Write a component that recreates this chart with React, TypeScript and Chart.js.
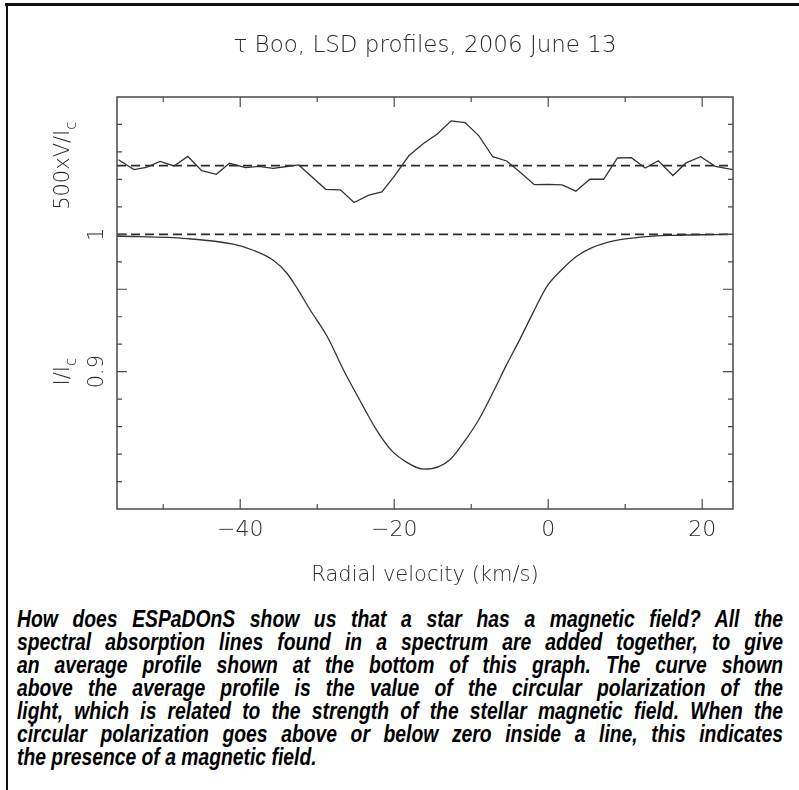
import React, { useEffect, useRef } from "react";
import { Chart, registerables } from "chart.js";

Chart.register(...registerables);

// ---- data ----
const titleText = "\u03c4 Boo, LSD profiles, 2006 June 13";
const xAxisTitle = "Radial velocity (km/s)";

// Stokes V profile (500 x V/Ic), plotted with an offset
const vVelocity = [
  -55.8, -53.8, -52.2, -50.4, -48.6, -46.8, -45.0, -43.1, -41.4, -39.3, -37.6, -35.7, -34.2,
  -32.4, -28.9, -27.0, -25.2, -23.3, -21.6, -20.1, -18.1, -16.2, -14.4, -12.6, -10.8, -9.0,
  -7.2, -5.4, -3.6, -1.8, 0.0, 1.8, 3.6, 5.4, 7.2, 9.0, 10.8, 12.6, 14.3, 16.2, 17.9, 19.8,
  21.7, 24.0,
];
const vSignal = [
  0.0043, -0.0029, -0.0012, 0.0031, -0.0002, 0.0067, -0.0036, -0.0063, 0.0017, -0.0014, -0.0005,
  -0.002, -0.0008, 0.0005, -0.0172, -0.0176, -0.0268, -0.0215, -0.0191, -0.0085, 0.0072, 0.0162,
  0.023, 0.0326, 0.0314, 0.0217, 0.0065, 0.0034, -0.0049, -0.0138, -0.0136, -0.014, -0.0186,
  -0.0099, -0.0099, 0.0056, 0.0058, -0.0017, 0.0036, -0.0072, 0.002, 0.0065, -0.0005, -0.0029,
];
const vOffset = 1.05;

// Stokes I profile (I/Ic)
const iVelocity = [
  -56, -46.9, -40.9, -38.3, -35.7, -33.9, -32.6, -30.9, -28.7, -26.6, -24.4, -22.2, -20.3,
  -18.3, -16.2, -14.2, -12.7, -11.0, -9.0, -7.1, -5.4, -3.6, -1.9, -0.2, 1.8, 3.7, 5.7, 8.5,
  12.0, 16.3, 21.5, 24.0,
];
const iProfile = [
  0.9988, 0.9969, 0.9928, 0.9884, 0.9812, 0.9715, 0.9606, 0.9449, 0.9256, 0.9014, 0.8785,
  0.8567, 0.8423, 0.8338, 0.829, 0.8309, 0.8362, 0.8483, 0.8652, 0.8857, 0.9051, 0.9244,
  0.9437, 0.9618, 0.9744, 0.984, 0.9903, 0.9952, 0.998, 0.9993, 0.9998, 1.0,
];
const referenceLevels = [1.05, 1.0];

const xMin = -56;
const xMax = 24;
const yMin = 0.8;
const yMax = 1.1;
const xMajorTicks = [-40, -20, 0, 20];
const xMinorTicks = [-50, -30, -10, 10];
const xTickLabels = ["\u221240", "\u221220", "0", "20"];
const yMinorTicks = [0.82, 0.84, 0.86, 0.88, 0.92, 0.94, 0.98, 1.02, 1.04, 1.06, 1.08];
const yMajorTicks = [0.9, 0.96, 1.0];
const yTickValues = [1.0, 0.9];
const yTickLabels = ["1", "0.9"];

const captionLines = [
  "How does ESPaDOnS show us that a star has a magnetic field? All the",
  "spectral absorption lines found in a spectrum are added together, to give",
  "an average profile shown at the bottom of this graph. The curve shown",
  "above the average profile is the value of the circular polarization of the",
  "light, which is related to the strength of the stellar magnetic field. When the",
  "circular polarization goes above or below zero inside a line, this indicates",
  "the presence of a magnetic field.",
];

const FONT = '200 21px "DejaVu Sans", sans-serif';
const TICKFONT = '200 22px "DejaVu Sans", sans-serif';
const TITLEFONT = '200 23px "DejaVu Sans", sans-serif';
const SUBFONT = '200 15px "DejaVu Sans", sans-serif';
const TEXT = "#2a2a2a";
const AXIS = "#4a4a4a";

const axesPlugin = {
  id: "pgplotAxes",
  afterDatasetsDraw(chart: any) {
    const ctx = chart.ctx as CanvasRenderingContext2D;
    const { left, right, top, bottom } = chart.chartArea;
    const xs = chart.scales.x;
    const ys = chart.scales.y;
    ctx.save();
    ctx.strokeStyle = AXIS;
    ctx.lineWidth = 1.5;
    ctx.strokeRect(left, top, right - left, bottom - top);
    ctx.lineWidth = 1.2;
    const tickX = (v: number, len: number) => {
      const px = xs.getPixelForValue(v);
      ctx.beginPath();
      ctx.moveTo(px, bottom);
      ctx.lineTo(px, bottom - len);
      ctx.moveTo(px, top);
      ctx.lineTo(px, top + len);
      ctx.stroke();
    };
    const tickY = (v: number, len: number) => {
      const py = ys.getPixelForValue(v);
      ctx.beginPath();
      ctx.moveTo(left, py);
      ctx.lineTo(left + len, py);
      ctx.moveTo(right, py);
      ctx.lineTo(right - len, py);
      ctx.stroke();
    };
    xMajorTicks.forEach((v) => tickX(v, 10));
    xMinorTicks.forEach((v) => tickX(v, 5));
    yMajorTicks.forEach((v) => tickY(v, 10));
    yMinorTicks.forEach((v) => tickY(v, 5));

    ctx.fillStyle = TEXT;
    ctx.textAlign = "center";
    ctx.textBaseline = "middle";
    ctx.font = TICKFONT;
    xMajorTicks.forEach((v, i) => {
      ctx.fillText(xTickLabels[i], xs.getPixelForValue(v), 530);
    });
    ctx.font = FONT;
    ctx.fillText(xAxisTitle, (left + right) / 2, 576);
    ctx.font = TITLEFONT;
    ctx.fillText(titleText, (left + right) / 2, 46);

    // rotated y tick labels
    ctx.font = FONT;
    yTickValues.forEach((v, i) => {
      ctx.save();
      ctx.translate(103, ys.getPixelForValue(v));
      ctx.rotate(-Math.PI / 2);
      ctx.textAlign = "center";
      ctx.textBaseline = "alphabetic";
      ctx.fillText(yTickLabels[i], 0, 0);
      ctx.restore();
    });

    const drawSubLabel = (main: string, sub: string, y: number) => {
      ctx.save();
      ctx.translate(69, y);
      ctx.rotate(-Math.PI / 2);
      ctx.textBaseline = "alphabetic";
      ctx.textAlign = "left";
      ctx.font = FONT;
      const w1 = ctx.measureText(main).width;
      ctx.font = SUBFONT;
      const w2 = ctx.measureText(sub).width;
      const start = -(w1 + w2) / 2;
      ctx.font = FONT;
      ctx.fillText(main, start, 0);
      ctx.font = SUBFONT;
      ctx.fillText(sub, start + w1, 7);
      ctx.restore();
    };
    drawSubLabel("500xV/I", "c", ys.getPixelForValue(1.05));
    drawSubLabel("I/I", "c", ys.getPixelForValue(0.9));
    ctx.restore();
  },
};

function StokesChart() {
  const ref = useRef<HTMLCanvasElement | null>(null);
  useEffect(() => {
    if (!ref.current) return;
    const lineColor = "#333333";
    const chart = new Chart(ref.current, {
      type: "scatter",
      data: {
        datasets: [
          {
            label: "500xV/Ic",
            data: vVelocity.map((x, i) => ({ x, y: vOffset + vSignal[i] })),
            showLine: true,
            borderColor: lineColor,
            borderWidth: 1.3,
            pointRadius: 0,
            tension: 0,
          },
          {
            label: "I/Ic",
            data: iVelocity.map((x, i) => ({ x, y: iProfile[i] })),
            showLine: true,
            borderColor: lineColor,
            borderWidth: 1.3,
            pointRadius: 0,
            cubicInterpolationMode: "monotone",
          } as any,
          ...referenceLevels.map((lvl) => ({
            label: "level " + lvl,
            data: [
              { x: xMin, y: lvl },
              { x: xMax, y: lvl },
            ],
            showLine: true,
            borderColor: "#2a2a2a",
            borderWidth: 1.6,
            borderDash: [9, 5],
            pointRadius: 0,
          })),
        ],
      },
      options: {
        animation: false,
        responsive: false,
        events: [],
        layout: { padding: { left: 117, right: 66, top: 97, bottom: 91 } },
        plugins: { legend: { display: false }, tooltip: { enabled: false }, title: { display: false } },
        scales: {
          x: { type: "linear", min: xMin, max: xMax, display: false },
          y: { type: "linear", min: yMin, max: yMax, display: false },
        },
      },
      plugins: [axesPlugin],
    });
    return () => chart.destroy();
  }, []);
  return (
    <canvas
      ref={ref}
      width={799}
      height={600}
      style={{ position: "absolute", left: 0, top: 0, width: 799, height: 600 }}
    />
  );
}

export default function App() {
  const scale = 0.84;
  const boxW = 766;
  return (
    <div
      style={{
        position: "fixed",
        left: 0,
        top: 0,
        width: 799,
        height: 790,
        background: "#fff",
        overflow: "hidden",
      }}
    >
      <div style={{ position: "absolute", left: 5, top: 3, width: 794, height: 3, background: "#111" }} />
      <div style={{ position: "absolute", left: 6, top: 3, width: 2, height: 787, background: "#111" }} />
      <StokesChart />
      <div
        style={{
          position: "absolute",
          left: 17,
          top: 608,
          width: boxW / scale,
          transform: `scaleX(${scale})`,
          transformOrigin: "0 0",
          fontFamily: '"Liberation Sans", Arial, sans-serif',
          fontWeight: "bold",
          fontStyle: "italic",
          fontSize: 23,
          lineHeight: "23px",
          color: "#000",
        }}
      >
        {captionLines.map((line, i) => (
          <div
            key={i}
            style={{
              height: 23,
              whiteSpace: "normal",
              textAlign: i < captionLines.length - 1 ? "justify" : "left",
              textAlignLast: i < captionLines.length - 1 ? "justify" : "left",
            }}
          >
            {line}
          </div>
        ))}
      </div>
    </div>
  );
}
